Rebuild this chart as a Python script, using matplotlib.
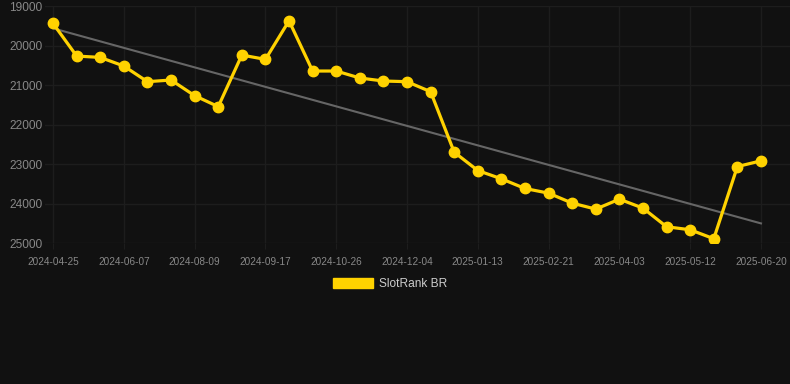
import numpy as np
import matplotlib
matplotlib.use("Agg")
import matplotlib.pyplot as plt
from matplotlib.patches import Patch

plt.rcParams["font.family"] = ["Liberation Sans", "DejaVu Sans"]

# rank values, one every ~2 weeks (lower rank shown higher)
ranks = [19438, 20264, 20298, 20517, 20913, 20871, 21267, 21545, 20239, 20348,
         19371, 20643, 20643, 20820, 20896, 20913, 21166, 22699, 23163, 23373,
         23618, 23736, 23989, 24140, 23888, 24115, 24587, 24663, 24890, 23062,
         22918]
tick_labels = ["2024-04-25", "2024-06-07", "2024-08-09", "2024-09-17", "2024-10-26",
               "2024-12-04", "2025-01-13", "2025-02-21", "2025-04-03", "2025-05-12",
               "2025-06-20"]
y_ticks = [19000, 20000, 21000, 22000, 23000, 24000, 25000]

bg = "#111111"
x = np.arange(len(ranks))

fig = plt.figure(figsize=(7.9, 3.84), dpi=100, facecolor=bg)
ax = fig.add_axes([0.057, 0.367, 0.943, 0.617])
ax.set_facecolor(bg)

# trend line
k, b = np.polyfit(x, ranks, 1)
ax.plot(x, k * x + b, color="#666666", linewidth=1.5, zorder=2)

ax.plot(x, ranks, color="#FFD200", linewidth=2.3, marker="o", markersize=7.5,
        zorder=3)

ax.set_ylim(25000, 19000)
ax.set_yticks(y_ticks)
ax.set_xlim(-0.34, 31.23)
ax.set_xticks(x[::3])
ax.set_xticklabels(tick_labels)

ax.grid(True, color="#1d1d1d", linewidth=1)
for s in ax.spines.values():
    s.set_visible(False)
ax.tick_params(axis="y", length=0, pad=2, labelsize=8.6, labelcolor="#888888")
ax.tick_params(axis="x", length=4, color="#1d1d1d", pad=6, labelsize=7.2,
               labelcolor="#888888")

fig.legend(handles=[Patch(facecolor="#FFD200", edgecolor="#FFD200")],
           labels=["SlotRank BR"], loc="center",
           bbox_to_anchor=(390 / 790, 1 - 284 / 384), frameon=False,
           fontsize=8.6, labelcolor="#cccccc", handlelength=3.3,
           handleheight=0.9, handletextpad=0.5)

fig.savefig("out.png", dpi=100, facecolor=bg)
